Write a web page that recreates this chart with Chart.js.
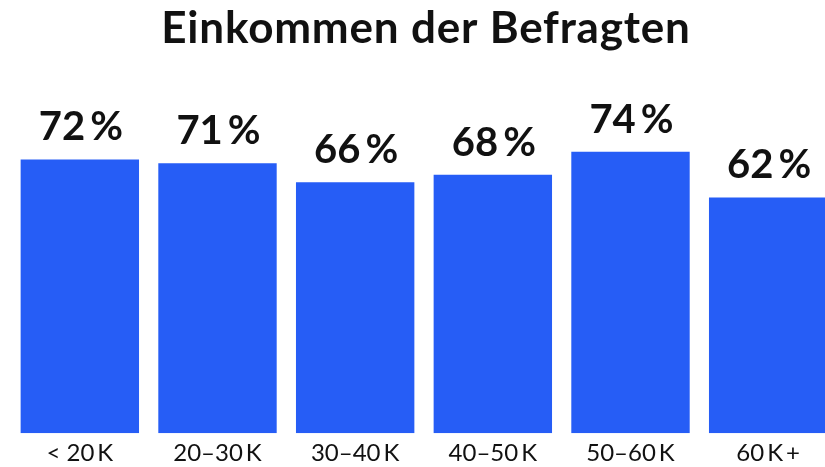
<!DOCTYPE html>
<html>
<head>
<meta charset="utf-8">
<script src="https://cdn.jsdelivr.net/npm/chart.js@4"></script>
<style>
  html, body { margin: 0; padding: 0; background: #fff; overflow: hidden; }
  #wrap { width: 837px; height: 467px; }
</style>
</head>
<body>
<div id="wrap"><canvas id="chart"></canvas></div>
<script>
'use strict';

/* global Chart */

// income groups and share of respondents (%)
const title = 'Einkommen der Befragten';
const categories = ['< 20\u2009K', '20\u201330\u2009K', '30\u201340\u2009K', '40\u201350\u2009K', '50\u201360\u2009K', '60\u2009K\u2009+'];
const shares = [72, 71, 66, 68, 74, 62];

const BLUE = '#265df6';
const INK = '#111';

// title and percent values over the bars
const textLayer = {
  id: 'textLayer',
  afterDatasetsDraw(chart) {
    const ctx = chart.ctx;
    const area = chart.chartArea;
    const meta = chart.getDatasetMeta(0);
    ctx.save();
    ctx.fillStyle = INK;
    ctx.textAlign = 'center';
    ctx.textBaseline = 'alphabetic';

    ctx.letterSpacing = '0.8px';
    ctx.font = 'bold 44px Lato';
    ctx.fillText(title, (area.left + area.right) / 2 + 2, 43);

    ctx.letterSpacing = '0px';
    ctx.font = 'bold 40px Lato';
    meta.data.forEach((bar, i) => {
      ctx.fillText(shares[i] + '\u2009%', bar.x + 1, bar.y - 19);
    });
    ctx.restore();
  }
};

new Chart(document.getElementById('chart'), {
  type: 'bar',
  data: {
    labels: categories,
    datasets: [{
      data: shares,
      backgroundColor: BLUE,
      categoryPercentage: 0.86,
      barPercentage: 1
    }]
  },
  options: {
    responsive: true,
    maintainAspectRatio: false,
    animation: false,
    layout: { padding: { left: 11, right: 0, top: 53, bottom: -7 } },
    plugins: {
      legend: { display: false },
      tooltip: { enabled: false },
      title: { display: false }
    },
    scales: {
      x: {
        grid: { display: false, drawTicks: false, tickLength: 0 },
        border: { display: false },
        ticks: {
          color: INK,
          padding: 6,
          maxRotation: 0,
          font: { family: 'Lato', size: 24 }
        }
      },
      y: {
        display: false,
        min: 0,
        max: 100
      }
    }
  },
  plugins: [textLayer]
});
</script>
</body>
</html>
